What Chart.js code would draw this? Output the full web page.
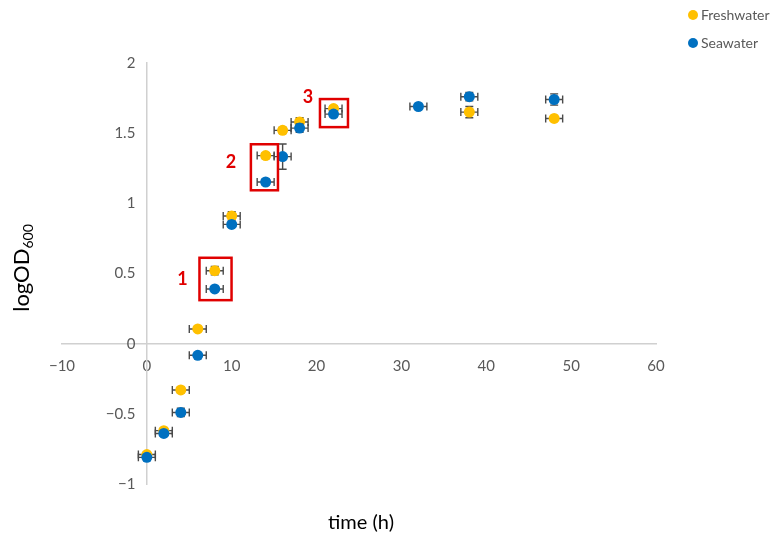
<!DOCTYPE html>
<html><head><meta charset="utf-8">
<script src="https://cdn.jsdelivr.net/npm/chart.js@4.4.1/dist/chart.umd.min.js"></script>
<style>html,body{margin:0;padding:0;background:#fff}</style>
</head><body>
<canvas id="c" width="776" height="538"></canvas>
<script>
// ---- data ----
const fwTime  = [0, 2, 4, 6, 8, 10, 14, 16, 18, 22, 38, 48];
const fwLogOD = [-0.79, -0.62, -0.33, 0.105, 0.52, 0.91, 1.34, 1.52, 1.58, 1.675, 1.65, 1.605];
const fwErrY  = [0.02, 0.02, 0.02, 0.01, 0.03, 0.03, 0.02, 0.02, 0.03, 0.02, 0.04, 0.01];
const swTime  = [0, 2, 4, 6, 8, 10, 14, 16, 18, 22, 32, 38, 48];
const swLogOD = [-0.81, -0.64, -0.49, -0.083, 0.39, 0.85, 1.152, 1.333, 1.536, 1.636, 1.69, 1.76, 1.74];
const swErrY  = [0.02, 0.02, 0.03, 0.01, 0.01, 0.02, 0.02, 0.09, 0.03, 0.02, 0.01, 0.03, 0.04];
const errTime = 1;                 // horizontal error (h)
const seriesNames = ['Freshwater', 'Seawater'];
const xTickValues = [-10, 0, 10, 20, 30, 40, 50, 60];
const yTickValues = [-1, -0.5, 0, 0.5, 1, 1.5, 2];
// highlighted groups: [xMin, xMax, yMin, yMax] in data units, label and its anchor
const boxRanges = [[6.2, 9.98, 0.31, 0.612], [12.26, 15.45, 1.093, 1.421], [20.4, 23.7, 1.543, 1.743]];
const boxLabels = ['1', '2', '3'];
const boxLabelAt = [[4.2, 0.457], [9.9, 1.29], [19.0, 1.757]];

const FONT = 'Lato, "Open Sans", sans-serif';
const COLORS = ['#FFC000', '#0070C0'];

function pts(t, v, e) { return t.map((x, i) => ({x: x, y: v[i], ey: e[i]})); }
const minus = v => String(v).replace('-', '\u2212');

const errorBars = {
  id: 'errorBars',
  beforeDatasetDraw(chart, args) {
    const {ctx, scales: {x, y}} = chart;
    const ds = chart.data.datasets[args.index];
    ctx.save();
    ctx.strokeStyle = '#4a4a4a';
    ctx.lineWidth = 1.4;
    const cap = 4;
    ds.data.forEach(p => {
      const px = x.getPixelForValue(p.x), py = y.getPixelForValue(p.y);
      const xl = x.getPixelForValue(p.x - errTime), xr = x.getPixelForValue(p.x + errTime);
      const yt = y.getPixelForValue(p.y + p.ey), yb = y.getPixelForValue(p.y - p.ey);
      ctx.beginPath();
      ctx.moveTo(xl, py); ctx.lineTo(xr, py);
      ctx.moveTo(xl, py - cap); ctx.lineTo(xl, py + cap);
      ctx.moveTo(xr, py - cap); ctx.lineTo(xr, py + cap);
      ctx.moveTo(px, yt); ctx.lineTo(px, yb);
      ctx.moveTo(px - cap, yt); ctx.lineTo(px + cap, yt);
      ctx.moveTo(px - cap, yb); ctx.lineTo(px + cap, yb);
      ctx.stroke();
    });
    ctx.restore();
  }
};

const extras = {
  id: 'extras',
  afterDraw(chart) {
    const {ctx, scales: {x, y}} = chart;
    ctx.save();
    // highlight boxes
    ctx.strokeStyle = '#E00000';
    ctx.lineWidth = 2.5;
    boxRanges.forEach(b => {
      const l = x.getPixelForValue(b[0]), r = x.getPixelForValue(b[1]);
      const t = y.getPixelForValue(b[3]), bt = y.getPixelForValue(b[2]);
      ctx.strokeRect(l, t, r - l, bt - t);
    });
    ctx.fillStyle = '#E00000';
    ctx.font = 'bold 18px ' + FONT;
    ctx.textAlign = 'center'; ctx.textBaseline = 'middle';
    boxLabels.forEach((s, i) => {
      ctx.fillText(s, x.getPixelForValue(boxLabelAt[i][0]), y.getPixelForValue(boxLabelAt[i][1]));
    });
    // x title
    ctx.fillStyle = '#000';
    ctx.font = '20px ' + FONT;
    ctx.fillText('time (h)', 361, 523);
    // y title with subscript
    ctx.translate(22, 268);
    ctx.rotate(-Math.PI / 2);
    ctx.font = '22px ' + FONT;
    const w1 = ctx.measureText('logOD').width;
    ctx.font = '14px ' + FONT;
    const w2 = ctx.measureText('600').width;
    const start = -(w1 + w2) / 2;
    ctx.textAlign = 'left'; ctx.textBaseline = 'alphabetic';
    ctx.font = '22px ' + FONT;
    ctx.fillText('logOD', start, 7);
    ctx.font = '14px ' + FONT;
    ctx.fillText('600', start + w1, 11);
    ctx.restore();
    // legend
    ctx.save();
    ctx.font = '14px ' + FONT;
    ctx.textBaseline = 'middle'; ctx.textAlign = 'left';
    seriesNames.forEach((n, i) => {
      const cy = 15 + i * 28;
      ctx.fillStyle = COLORS[i];
      ctx.beginPath(); ctx.arc(693, cy, 5, 0, Math.PI * 2); ctx.fill();
      ctx.fillStyle = '#595959';
      ctx.fillText(n, 701, cy);
    });
    ctx.restore();
  }
};

new Chart(document.getElementById('c'), {
  type: 'scatter',
  data: {
    datasets: [
      {label: seriesNames[0], data: pts(fwTime, fwLogOD, fwErrY), backgroundColor: COLORS[0], borderColor: COLORS[0], pointRadius: 5.5, borderWidth: 0, order: 1},
      {label: seriesNames[1], data: pts(swTime, swLogOD, swErrY), backgroundColor: COLORS[1], borderColor: COLORS[1], pointRadius: 5.5, borderWidth: 0, order: 0}
    ]
  },
  options: {
    responsive: false,
    animation: false,
    layout: {padding: {left: 62, right: 120, top: 63, bottom: 54}},
    plugins: {legend: {display: false}, tooltip: {enabled: false}},
    scales: {
      x: {
        type: 'linear', position: {y: 0}, min: -10, max: 60,
        afterBuildTicks: s => { s.ticks = xTickValues.map(v => ({value: v})); },
        ticks: {callback: v => minus(v), color: '#595959', font: {family: FONT, size: 15, lineHeight: 1.45}, padding: 12, maxRotation: 0, autoSkip: false},
        grid: {display: false, drawTicks: false},
        border: {display: true, color: '#d0d0d0', width: 1.5}
      },
      y: {
        type: 'linear', position: {x: 0}, min: -1, max: 2,
        afterBuildTicks: s => { s.ticks = yTickValues.map(v => ({value: v})); },
        ticks: {callback: v => minus(v) + '   ', color: '#595959', font: {family: FONT, size: 15}, autoSkip: false},
        grid: {display: false, drawTicks: false},
        border: {display: true, color: '#d0d0d0', width: 1.5}
      }
    }
  },
  plugins: [errorBars, extras]
});
</script>
</body></html>
